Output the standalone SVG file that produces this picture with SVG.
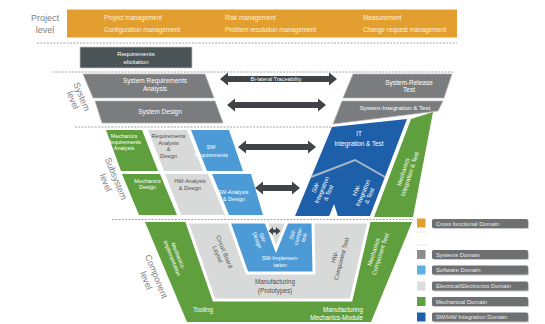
<svg xmlns="http://www.w3.org/2000/svg" width="545" height="324" viewBox="0 0 545 324">
<defs>
<style>
text{font-family:"Liberation Sans",Arial,sans-serif;text-anchor:middle}
.w{fill:#ffffff}
.o{fill:#fcf2dc;font-size:6.3px;text-anchor:start}
.d{fill:#4d4d4d}
.lv{font-size:9px;fill:#808080}
.s55{font-size:5.5px}
.s6{font-size:6px}
.s65{font-size:6.5px}
.dash{stroke:#9a9a9a;stroke-width:0.9;stroke-dasharray:2 1.3;fill:none}
.g{fill:#7a7c7e;stroke:#b4b6b7;stroke-width:0.7}
.grn{fill:#5f9f3d}
.lg{fill:#d8dad9}
.lb{fill:#4c9bd6}
.db{fill:#1e5fa9}
.gap{stroke:#ffffff;stroke-width:3;stroke-linejoin:miter}
.arr{fill:#404446}
.lgbar{fill:#6e7072}
.lgsh{fill:#c9c9c9}
.lt{fill:#ececec;font-size:5.8px;text-anchor:start}
</style>
</defs>
<rect width="545" height="324" fill="#ffffff"/>

<!-- Project level -->
<g id="project-level">
<text class="lv" x="45" y="21">Project</text>
<text class="lv" x="45" y="33">level</text>
<rect x="67" y="9.5" width="390" height="28" fill="#e29f2f"/>
<text class="o" x="104" y="19.5">Project management</text>
<text class="o" x="104" y="32">Configuration management</text>
<text class="o" x="225" y="19.5">Risk management</text>
<text class="o" x="225" y="32">Problem resolution management</text>
<text class="o" x="363" y="19.5">Measurement</text>
<text class="o" x="363" y="32">Change request management</text>
</g>

<g id="req-elicitation">
<rect x="80" y="47" width="112" height="21" fill="#4a5456" stroke="#c4c8c9" stroke-width="0.7"/>
<text class="w s6" x="136" y="56">Requirements</text>
<text class="w s6" x="136" y="64">elicitation</text>
</g>

<!-- System level -->
<g id="system-level-label" transform="translate(77.5,98.3) rotate(68)">
<text class="lv" x="0" y="-1.5">System</text>
<text class="lv" x="0" y="8">level</text>
</g>
<g id="sys-req-analysis">
<polygon class="g" points="83,74 205,74 214,98 93,98"/>
<text class="w s65" x="155" y="83">System Requirements</text>
<text class="w s65" x="155" y="91">Analysis</text>
</g>
<g id="sys-design">
<polygon class="g" points="95,101 215,101 223,123 102,123"/>
<text class="w s65" x="160" y="114">System Design</text>
</g>
<g id="sys-release-test">
<polygon class="g" points="353,74 452,74 444,98 343,98"/>
<text class="w s65" x="409" y="85">System-Release</text>
<text class="w s65" x="409" y="91.5">Test</text>
</g>
<g id="sys-integration-test">
<polygon class="g" points="342,101 443,101 438,111 333,124"/>
<text class="w" font-size="6.2" x="395" y="110">System-Integration &amp; Test</text>
</g>

<!-- Subsystem level -->
<g id="subsystem-level-label" transform="translate(111.3,180.5) rotate(68)">
<text class="lv" x="0" y="-2">Subsystem</text>
<text class="lv" x="0" y="9">level</text>
</g>
<g id="mech-req-analysis">
<polygon class="grn" points="106,130 142,130 158,171 121,171"/>
<text class="w s55" x="124" y="137.5">Mechanics</text>
<text class="w s55" x="124" y="144">Requirements</text>
<text class="w s55" x="124" y="150.3">Analysis</text>
</g>
<g id="mech-design">
<polygon class="grn" points="122,174 160,174 177,215 139,215"/>
<text class="w s55" x="147.5" y="182.7">Mechanics</text>
<text class="w s55" x="147.5" y="189.3">Design</text>
</g>
<g id="req-analysis-design">
<polygon class="lg" points="148,130 187,130 203,171 164,171"/>
<text class="d s55" x="168.5" y="138">Requirements</text>
<text class="d s55" x="168.5" y="145">Analysis</text>
<text class="d s55" x="168.5" y="151.3">&amp;</text>
<text class="d s55" x="168.5" y="157.5">Design</text>
</g>
<g id="hw-analysis-design">
<polygon class="lg" points="165,174 208,174 225,215 181,215"/>
<text class="d s55" x="190" y="182.7">HW-Analysis</text>
<text class="d s55" x="190" y="190.3">&amp; Design</text>
</g>
<g id="sw-requirements">
<polygon class="lb" points="191,130 229,130 243,171 207,171"/>
<text class="w s55" x="211" y="148.7">SW</text>
<text class="w s55" x="211" y="157">Requirements</text>
</g>
<g id="sw-analysis-design">
<polygon class="lb" points="212,174 251,174 263,215 229,215"/>
<text class="w s55" x="233" y="194">SW-Analysis</text>
<text class="w s55" x="234" y="201">&amp; Design</text>
</g>
<g id="it-integration">
<polygon class="db" points="332,127 407,119 370,216 295,216"/>
<polyline points="311,177 355,160 385,177" fill="none" stroke="#a9b8c8" stroke-width="2"/>
<polygon points="329,216.5 334,204 338,216.5" fill="#ffffff"/>
<text class="w" font-size="6.3" x="359" y="135.5">IT</text>
<text class="w" font-size="6.3" x="359" y="145.5">Integration &amp; Test</text>
</g>
<g id="sw-integration-test" transform="translate(322,190) rotate(-67)">
<text class="w s6" x="0" y="-5">SW-</text>
<text class="w s6" x="0" y="2">Integration</text>
<text class="w s6" x="0" y="9">&amp; Test</text>
</g>
<g id="hw-integration-test" transform="translate(363,193) rotate(-67)">
<text class="w s6" x="0" y="-5">HW-</text>
<text class="w s6" x="0" y="2">Integration</text>
<text class="w s6" x="0" y="9">&amp; Test</text>
</g>
<g id="mech-integration-test">
<polygon class="grn" points="411,119 433,112 413,217 374,217"/>
<g transform="translate(406.5,173) rotate(-72)">
<text class="w s6" x="0" y="-1.5">Mechanics</text>
<text class="w s6" x="0" y="5.5">Integration &amp; Test</text>
</g>
</g>

<!-- Component level -->
<g id="component-level-label" transform="translate(151.7,278.3) rotate(68)">
<text class="lv" x="0" y="-2">Component</text>
<text class="lv" x="0" y="9">level</text>
</g>
<g id="mechanics-implementation">
<polygon class="grn" points="145,222 412,222 371,322 187,322"/>
<g transform="translate(175,257) rotate(68)">
<text class="w s55" x="0" y="-1.5">Mechanics-</text>
<text class="w s55" x="0" y="5">Implementation</text>
</g>
<text class="w" font-size="6.3" x="203" y="311.5">Tooling</text>
<text class="w" font-size="6.3" x="363" y="311.5" style="text-anchor:end">Manufacturing</text>
<text class="w" font-size="6.3" x="363" y="319.5" style="text-anchor:end">Mechanics-Module</text>
<g transform="translate(377,253) rotate(-72)">
<text class="w s6" x="0" y="-1.5">Mechanics</text>
<text class="w s6" x="0" y="5.5">Component Test</text>
</g>
</g>
<g id="electronics-component">
<polygon class="lg gap" points="187,222 369,222 351,300 214,300"/>
<g transform="translate(221,253) rotate(68)">
<text class="d s6" x="0" y="-1.5">Circuit Board</text>
<text class="d s6" x="0" y="5.5">Layout</text>
</g>
<text class="d" font-size="6.3" x="275" y="284">Manufacturing</text>
<text class="d" font-size="6.3" x="275" y="292.5">(Prototypes)</text>
<g transform="translate(338,258) rotate(-75)">
<text class="d s6" x="0" y="-1.5">HW-</text>
<text class="d s6" x="0" y="5.5">Component Test</text>
</g>
</g>
<g id="sw-implementation">
<polygon class="lb gap" points="229,222 266,222 276,249 287,222 313,222 314,273 247,273"/>
<g transform="translate(260,239) rotate(68)">
<text class="w s55" x="0" y="-1">SW-</text>
<text class="w s55" x="0" y="5">Design</text>
</g>
<g transform="translate(298,236) rotate(-75)">
<text class="w s55" x="0" y="-4">SW-</text>
<text class="w s55" x="0" y="2">compo-</text>
<text class="w s55" x="0" y="8">test</text>
</g>
<text class="w s55" x="280" y="260">SW-Implemen-</text>
<text class="w s55" x="280" y="267">tation</text>
</g>

<!-- dashed level separators -->
<g id="separators">
<line class="dash" x1="37" y1="43" x2="457" y2="43"/>
<line class="dash" x1="52" y1="72" x2="454" y2="72"/>
<line class="dash" x1="75" y1="127" x2="331" y2="127"/>
<line class="dash" x1="112" y1="219.5" x2="413" y2="219.5"/>
</g>

<!-- connectors: bi-lateral traceability arrows -->
<g id="connectors">
<path class="arr" d="M220,79 L228,72.5 L228,76 L329,76 L329,72.5 L337,79 L329,85.5 L329,82 L228,82 L228,85.5 Z"/>
<text class="w" font-size="5.5" x="276" y="81">Bi-lateral Traceability</text>
<path class="arr" d="M227,105 L235,98.5 L235,102 L318,102 L318,98.5 L326,105 L318,111.5 L318,108 L235,108 L235,111.5 Z"/>
<path class="arr" d="M238,147 L246,140.5 L246,144 L308,144 L308,140.5 L316,147 L308,153.5 L308,150 L246,150 L246,153.5 Z"/>
<path class="arr" d="M255,188 L263,181.5 L263,185 L292,185 L292,181.5 L300,188 L292,194.5 L292,191 L263,191 L263,194.5 Z"/>
<path class="arr" d="M268.5,231 L273,227 L273,229.5 L276,229.5 L276,227 L280.5,231 L276,235 L276,232.5 L273,232.5 L273,235 Z"/>
</g>

<!-- legend -->
<g id="legend">
<rect x="417" y="218.5" width="8.5" height="9" fill="#e29f2f"/>
<rect x="433" y="220" width="96" height="9" rx="1.5" class="lgsh"/>
<rect x="432" y="219" width="96" height="9" rx="1.5" class="lgbar"/>
<text class="lt" x="436" y="225.6">Cross functional Domain</text>
<line x1="416" y1="232" x2="427" y2="232" stroke="#e2e2e2" stroke-width="0.8"/>
<line x1="416" y1="245" x2="427" y2="245" stroke="#e2e2e2" stroke-width="0.8"/>

<rect x="417" y="250" width="8.5" height="9" fill="#8b8d8f"/>
<rect x="433" y="251" width="96" height="9" rx="1.5" class="lgsh"/>
<rect x="432" y="250" width="96" height="9" rx="1.5" class="lgbar"/>
<text class="lt" x="436" y="256.6">Systems Domain</text>

<rect x="417" y="265.5" width="8.5" height="9" fill="#5cb0e2"/>
<rect x="433" y="266.5" width="96" height="9" rx="1.5" class="lgsh"/>
<rect x="432" y="265.5" width="96" height="9" rx="1.5" class="lgbar"/>
<text class="lt" x="436" y="272.1">Software Domain</text>

<rect x="417" y="281.5" width="8.5" height="9" fill="#dcdedd"/>
<rect x="433" y="282.5" width="96" height="9" rx="1.5" class="lgsh"/>
<rect x="432" y="281.5" width="96" height="9" rx="1.5" class="lgbar"/>
<text class="lt" x="436" y="288.1">Electrical/Electronics Domain</text>

<rect x="417" y="297" width="8.5" height="9" fill="#5f9f3d"/>
<rect x="433" y="298" width="96" height="9" rx="1.5" class="lgsh"/>
<rect x="432" y="297" width="96" height="9" rx="1.5" class="lgbar"/>
<text class="lt" x="436" y="303.6">Mechanical Domain</text>

<rect x="417" y="312.5" width="8.5" height="9" fill="#1e5fa9"/>
<rect x="433" y="313.5" width="96" height="9" rx="1.5" class="lgsh"/>
<rect x="432" y="312.5" width="96" height="9" rx="1.5" class="lgbar"/>
<text class="lt" x="436" y="319.1">SW/HW Integration Domain</text>
</g>
</svg>
